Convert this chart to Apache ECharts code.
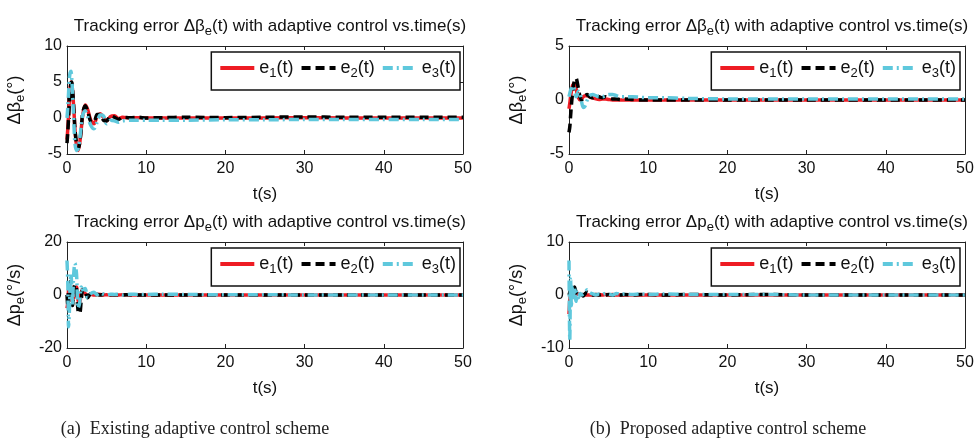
<!DOCTYPE html>
<html>
<head>
<meta charset="utf-8">
<script src="https://cdn.jsdelivr.net/npm/echarts@6/dist/echarts.min.js"></script>
<style>
html, body { margin: 0; padding: 0; background: #fff; }
#chart { width: 979px; height: 444px; }
</style>
</head>
<body>
<div id="chart"></div>
<script>
// time samples (s), dense during the transient
var time = [0, 0.1, 0.2, 0.3, 0.4, 0.5, 0.6, 0.7, 0.8, 0.9,
    1.0, 1.2, 1.4, 1.6, 1.8, 2.0, 2.3, 2.6, 3.0, 3.4,
    3.8, 4.2, 4.6, 5.0, 5.5, 6.0, 6.5, 7.0, 8, 9,
    10, 12, 15, 20, 25, 30, 35, 40, 45, 50];

var seriesNames = ['e1(t)', 'e2(t)', 'e3(t)'];

// (a) existing scheme, delta beta_e (deg)
var betaOldE1 = [-3, -1.5, 0.5, 2.5, 4.2, 5.0, 4.8, 3.8, 2.2, 0.5,
    -1.5, -3.8, -4.5, -3.5, -1.5, 0.5, 1.8, 1.2, -0.3, -0.8,
    0.2, 0.6, 0.1, -0.4, 0.2, 0.3, -0.1, 0.1, 0, 0.05,
    0, 0, 0, 0, 0, 0.05, 0, 0, 0, 0];
var betaOldE2 = [-3.5, -2, 0, 2, 3.8, 4.8, 5, 4, 2.5, 0.5,
    -1.5, -3.5, -4.3, -3.5, -1.5, 0.8, 1.7, 1.0, -0.5, -0.6,
    0.5, 0.5, -0.3, -0.4, 0.3, 0.1, -0.2, 0.1, 0.05, 0.1,
    0, 0.05, 0.1, 0.05, 0.1, 0.15, 0.1, 0.1, 0.1, 0.1];
var betaOldE3 = [0, 1.5, 3.5, 5.5, 6.3, 6.5, 5.5, 3.5, 1, -1.5,
    -3.5, -4.5, -4.3, -3, -1, 0.5, 1, 0.2, -1, -1.5,
    -0.6, 0.4, 0.3, -0.8, -0.3, -0.4, -0.6, -0.4, -0.3, -0.3,
    -0.3, -0.3, -0.3, -0.25, -0.25, -0.2, -0.2, -0.2, -0.2, -0.2];

// (b) proposed scheme, delta beta_e (deg)
var betaNewE1 = [-0.8, -0.3, 0.3, 0.8, 1.2, 1.4, 1.5, 1.5, 1.3, 1.0,
    0.7, 0.2, 0, 0.1, 0.3, 0.4, 0.4, 0.3, 0.2, 0.1,
    0.05, 0.1, 0.1, 0.05, 0, 0, 0, 0, 0, 0,
    0, 0, 0, 0, 0, 0, 0, 0, 0, 0];
var betaNewE2 = [-3, -2.5, -1.5, -0.5, 0.3, 1.0, 1.5, 1.8, 2.0, 2.0,
    1.8, 1.0, 0.3, 0, 0.2, 0.4, 0.5, 0.3, 0.2, 0.4,
    0.3, 0.2, 0.3, 0.2, 0.1, 0.1, 0.05, 0.1, 0.05, 0,
    0, 0, 0, 0, 0, 0, 0, 0, 0, 0];
var betaNewE3 = [0.3, 0.6, 0.9, 1.1, 1.3, 1.3, 1.2, 0.9, 0.5, 0.3,
    0.4, 0.8, 0.6, -0.2, -0.7, -0.6, 0, 0.4, 0.5, 0.4,
    0.3, 0.3, 0.4, 0.5, 0.5, 0.4, 0.3, 0.3, 0.3, 0.25,
    0.2, 0.2, 0.15, 0.1, 0.1, 0.1, 0.1, 0.1, 0.1, 0.1];

// (a) existing scheme, delta p_e (deg/s)
var rateOldE1 = [-5, -3, 2, 3, 1, -2, 0, 2, 1, -1,
    1, 3, -2, -3, 1, 2, 0.5, -0.5, 0.3, 0,
    0.3, 0.2, 0, 0.1, 0, 0.1, 0, 0.1, 0, 0,
    0, 0, 0, 0, 0, 0, 0, 0, 0, 0];
var rateOldE2 = [0, -4, 2, 4, 5, 2, -2, -4, 1, 3,
    4, 2, -6, -7, -2, 2, 1.5, -1, 0.5, 0,
    0.2, 0, 0.2, 0, 0.1, 0, 0.1, 0, 0.1, 0,
    0, 0, 0, 0, 0, 0, 0, 0, 0, 0];
var rateOldE3 = [13, 5, -12, -6, 4, 8, 3, -4, 5, 10,
    12, 8, -5, -3, 3, 2, 2.5, -1, 0.5, 1,
    0.2, 0.8, 0.3, 0, 0.3, 0.2, 0.3, 0, 0.3, 0.2,
    0.2, 0.3, 0.2, 0.1, 0.1, 0, 0, 0, 0, 0];

// (b) proposed scheme, delta p_e (deg/s)
var rateNewE1 = [-3.6, -1, 0.5, 0.8, 0.5, 0.3, 0.2, 0.3, 0.2, 0,
    0.1, 0.2, 0.1, 0, 0, 0, 0, 0, 0, 0,
    0.1, 0, 0.1, 0, 0.1, 0, 0, 0, 0, 0,
    0, 0, 0, 0, 0, 0, 0, 0, 0, 0];
var rateNewE2 = [0, 0.5, 1, 1.5, 1.8, 1.5, 1.2, 1.5, 1.0, 0.5,
    0.2, 0, 0.3, 0.1, -0.2, 0.2, 0.5, 0.2, 0, 0.1,
    0, 0.1, 0, 0.1, 0, 0.1, 0, 0.1, 0, 0.1,
    0.1, 0, 0.1, 0, 0.1, 0, 0, 0, 0, 0];
var rateNewE3 = [6.5, -8.5, 3, -2, 1.5, -1, 0.5, 1.5, -0.5, -1.2,
    0.5, -0.5, 0.3, 0, 0.2, 0.4, 1.0, 0.5, 0.2, 0,
    0.2, 0.1, 0.3, 0.2, 0, 0.3, 0.1, 0.2, 0.1, 0.2,
    0.1, 0.2, 0.1, 0.1, 0.1, 0, 0, 0, 0, 0];

var betaTitle = 'Tracking error Δβ{s|e}(t) with adaptive control vs.time(s)';
var rateTitle = 'Tracking error Δp{s|e}(t) with adaptive control vs.time(s)';

var panels = [
    { left: 67, top: 46, height: 108, right: 519, title: betaTitle, yName: 'Δβ{s|e}(°)', yMin: -5, yMax: 10, yStep: 5, lines: [betaOldE1, betaOldE2, betaOldE3] },
    { left: 569, top: 46, height: 108, right: 19, title: betaTitle, yName: 'Δβ{s|e}(°)', yMin: -5, yMax: 5, yStep: 5, lines: [betaNewE1, betaNewE2, betaNewE3] },
    { left: 67, top: 242, height: 106, right: 519, title: rateTitle, yName: 'Δp{s|e}(°/s)', yMin: -20, yMax: 20, yStep: 20, lines: [rateOldE1, rateOldE2, rateOldE3] },
    { left: 569, top: 242, height: 106, right: 19, title: rateTitle, yName: 'Δp{s|e}(°/s)', yMin: -10, yMax: 10, yStep: 10, lines: [rateNewE1, rateNewE2, rateNewE3] }
];

var lineColors = ['#ee1c24', '#000000', '#5fc8dc'];
var lineDash = ['solid', [9, 5], [10, 4, 2, 4]];

var FONT = 'Liberation Sans, Arial, sans-serif';
function subStyle(size, drop) {
    return { fontSize: size, fontFamily: FONT, color: '#111', verticalAlign: 'top', padding: [drop, 0, 0, 0] };
}

var grids = [], xAxes = [], yAxes = [], series = [], titles = [], legends = [];

panels.forEach(function (p, i) {
    grids.push({ left: p.left, top: p.top, width: 396, height: p.height });

    titles.push({
        text: p.title,
        left: p.left + 198,
        top: p.top - 36,
        textAlign: 'center',
        textStyle: { fontFamily: FONT, fontSize: 17, fontWeight: 'normal', color: '#111', rich: { s: subStyle(13, 10) } }
    });

    var tickCommon = { inside: true, length: 4, lineStyle: { color: '#222' } };
    xAxes.push({
        gridIndex: i, type: 'value', min: 0, max: 50, interval: 10,
        name: 't(s)', nameLocation: 'middle', nameGap: 32,
        nameTextStyle: { fontFamily: FONT, fontSize: 17, color: '#111' },
        axisLine: { onZero: false, lineStyle: { color: '#222', width: 1 } },
        axisTick: tickCommon,
        axisLabel: { fontFamily: FONT, fontSize: 16, color: '#111', margin: 7 },
        splitLine: { show: false }
    });
    xAxes.push({
        gridIndex: i, type: 'value', min: 0, max: 50, interval: 10, position: 'top',
        axisLine: { onZero: false, lineStyle: { color: '#222', width: 1 } },
        axisTick: tickCommon, axisLabel: { show: false }, splitLine: { show: false }
    });
    yAxes.push({
        gridIndex: i, type: 'value', min: p.yMin, max: p.yMax, interval: p.yStep,
        name: p.yName, nameLocation: 'middle', nameGap: 40, nameRotate: 90,
        nameTextStyle: { fontFamily: FONT, fontSize: 18, color: '#111', rich: { s: subStyle(13, 10) } },
        axisLine: { show: true, onZero: false, lineStyle: { color: '#222', width: 1 } },
        axisTick: tickCommon,
        axisLabel: { fontFamily: FONT, fontSize: 16, color: '#111', margin: 5 },
        splitLine: { show: false }
    });
    yAxes.push({
        gridIndex: i, type: 'value', min: p.yMin, max: p.yMax, interval: p.yStep, position: 'right',
        axisLine: { show: true, onZero: false, lineStyle: { color: '#222', width: 1 } },
        axisTick: tickCommon, axisLabel: { show: false }, splitLine: { show: false }
    });

    p.lines.forEach(function (vals, k) {
        series.push({
            type: 'line',
            name: seriesNames[k],
            xAxisIndex: 2 * i,
            yAxisIndex: 2 * i,
            showSymbol: false,
            symbol: 'none',
            smooth: 0.3,
            data: time.map(function (t, j) { return [t, vals[j]]; }),
            lineStyle: { color: lineColors[k], width: 3.5, type: lineDash[k] },
            itemStyle: { color: lineColors[k] }
        });
    });

    legends.push({
        data: seriesNames,
        right: p.right,
        top: p.top + 6,
        orient: 'horizontal',
        itemWidth: 34,
        itemHeight: 14,
        itemGap: 6,
        padding: [7, 4, 10, 7],
        borderColor: '#111',
        borderWidth: 1.5,
        backgroundColor: '#fff',
        selectedMode: false,
        itemStyle: { color: 'rgba(0,0,0,0)', borderWidth: 0, opacity: 0 },
        lineStyle: { width: 4 },
        formatter: function (name) { return 'e{s|' + name.charAt(1) + '}(t)'; },
        textStyle: { fontFamily: FONT, fontSize: 18, color: '#111', rich: { s: subStyle(13, 11) } }
    });
});

// figure captions under each column
var captionStyle = { fontFamily: 'Liberation Serif, Times New Roman, serif', fontSize: 18, fontWeight: 'normal', color: '#222' };
titles.push({ text: '(a)  Existing adaptive control scheme', left: 190, top: 415, textAlign: 'center', textStyle: captionStyle });
titles.push({ text: '(b)  Proposed adaptive control scheme', left: 723, top: 415, textAlign: 'center', textStyle: captionStyle });

var chart = echarts.init(document.getElementById('chart'));
chart.setOption({
    animation: false,
    backgroundColor: '#fff',
    title: titles,
    legend: legends,
    grid: grids,
    xAxis: xAxes,
    yAxis: yAxes,
    series: series
});
</script>
</body>
</html>
